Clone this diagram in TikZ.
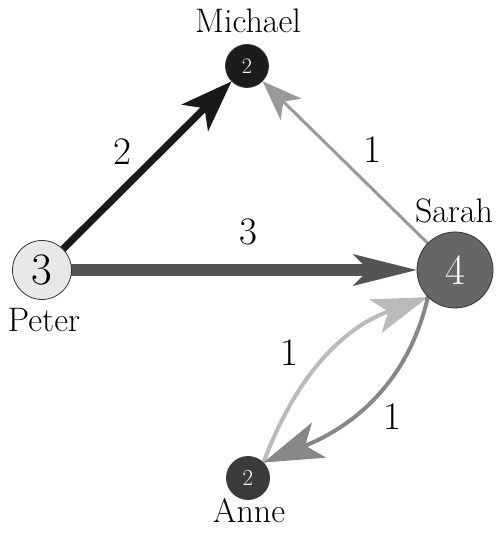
\documentclass[tikz,border=0pt]{standalone}
\usetikzlibrary{arrows.meta,backgrounds}
\begin{document}
\begin{tikzpicture}[x=1pt,y=1pt,
  vert/.style={circle,draw=black!80,line width=0.8pt,inner sep=0pt,minimum size=#1},
  lbl/.style={font=\fontsize{34}{34}\selectfont,anchor=base},
  elbl/.style={font=\fontsize{39}{39}\selectfont},
  edge/.style={line cap=round, shorten <=-4pt}
]
\useasboundingbox (0,0) rectangle (496,534);
\node[vert=59pt,fill=black!9,font=\fontsize{45}{45}\selectfont] (P) at (42,264) {3};
\node[vert=43pt,fill=black!89,text=white,font=\fontsize{22}{22}\selectfont] (M) at (247,468) {2};
\node[vert=76pt,fill=black!60,text=white,font=\fontsize{43}{43}\selectfont] (S) at (455,264) {4};
\node[vert=43pt,fill=black!77,text=white,font=\fontsize{23}{23}\selectfont] (A) at (248,56) {2};

\node[lbl] (lM) at (248,501) {Michael};
\node[lbl] (lP) at (44,202) {Peter};
\node[lbl] (lS) at (454,311) {Sarah};
\node[lbl] (lA) at (249,12) {Anne};

\begin{scope}[on background layer]
\draw[edge,draw=black!90,line width=7pt,
  -{Stealth[length=52pt,width=38pt,inset=14pt,line width=0pt]}] (P) -- (M);
\draw[edge,draw=black!40,line width=3pt,
  -{Stealth[length=40pt,width=30pt,inset=11pt,line width=0pt]}] (S) -- (M);
\draw[edge,draw=black!67,line width=12pt,
  -{Stealth[length=64pt,width=32pt,inset=16pt,line width=0pt]}] (P) -- (S);
\draw[edge,draw=black!27,line width=4pt,
  -{Stealth[length=56pt,width=36pt,inset=14pt,line width=0pt]}] (A.45) to[out=70,in=200] (S.225);
\draw[edge,draw=black!47,line width=4pt,
  -{Stealth[length=60pt,width=38pt,inset=15pt,line width=0pt]}] (S.225) to[out=258,in=22] (A.45);
\end{scope}

\node[elbl] (e1) at (122,382) {2};
\node[elbl] (e2) at (372,384) {1};
\node[elbl] (e3) at (248,302) {3};
\node[elbl] (e4) at (289,181) {1};
\node[elbl] (e5) at (392,117) {1};
\end{tikzpicture}
\end{document}
